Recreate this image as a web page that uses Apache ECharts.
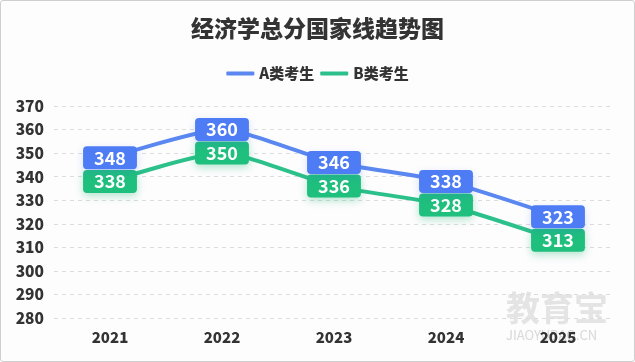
<!DOCTYPE html>
<html><head><meta charset="utf-8">
<script src="https://cdn.jsdelivr.net/npm/echarts@6/dist/echarts.min.js"></script>
<style>
html,body{margin:0;padding:0;background:#fff;}
#c{width:635px;height:362px;box-sizing:border-box;border:1px solid #cfcfcf;border-radius:3px;background:#fdfdfd;}
</style></head>
<body><div id="c"></div>
<script>
const years = ['2021','2022','2023','2024','2025'];
const seriesA = [348, 360, 346, 338, 323];
const seriesB = [338, 350, 336, 328, 313];
const nameA = 'A类考生';
const nameB = 'B类考生';
const titleText = '经济学总分国家线趋势图';

const blue = '#4d7cf4', blueLine = '#5b87f0';
const green = '#1fbf7d', greenLine = '#2cc08a';
const font = '"Noto Sans CJK SC", "Noto Sans", sans-serif';

const chart = echarts.init(document.getElementById('c'));
function lbl(bg, sh){
  return {show:true, position:'inside', color:'#fff', fontSize:18, fontWeight:'bold', fontFamily:font,
    backgroundColor:bg, borderRadius:4, padding:[2,11,2,11], lineHeight:19,
    shadowColor:sh, shadowBlur:8, shadowOffsetY:3};
}
chart.setOption({
  animation:false,
  title:{text:titleText, left:'center', top:11, textStyle:{fontSize:23, fontWeight:900, color:'#333', fontFamily:font}},
  legend:{top:60, left:'center', itemWidth:28, itemHeight:4, itemGap:6, icon:'roundRect',
    textStyle:{fontSize:15, fontWeight:900, color:'#333', fontFamily:font},
    data:[{name:nameA, itemStyle:{color:blueLine}}, {name:nameB, itemStyle:{color:greenLine}}]},
  grid:{left:53, right:20, top:105, bottom:43, containLabel:false},
  xAxis:{type:'category', data:years, boundaryGap:true,
    axisLine:{show:false}, axisTick:{show:false},
    axisLabel:{margin:12, fontSize:15, fontWeight:900, color:'#333', fontFamily:font}},
  yAxis:{type:'value', min:280, max:370, interval:10,
    axisLine:{show:false}, axisTick:{show:false},
    axisLabel:{margin:10, fontSize:15.5, fontWeight:900, color:'#333', fontFamily:font},
    splitLine:{lineStyle:{type:[4,4], color:'#dcdcdc'}}},
  series:[
    {name:nameA, type:'line', data:seriesA, smooth:0.2, symbol:'circle', symbolSize:1, showSymbol:true, z:3,
     lineStyle:{width:4, color:blueLine}, itemStyle:{color:blueLine}, label:lbl(blue,'rgba(60,100,230,0.2)')},
    {name:nameB, type:'line', data:seriesB, smooth:0.2, symbol:'circle', symbolSize:1, showSymbol:true, z:2,
     lineStyle:{width:4, color:greenLine}, itemStyle:{color:greenLine}, label:lbl(green,'rgba(0,170,100,0.3)')}
  ],
  graphic:[
    {type:'text', left:505, top:290, z:0, style:{text:'教育宝', fontSize:34, fontWeight:'bold', fill:'rgba(180,180,180,0.35)', fontFamily:font}},
    {type:'text', left:505, top:328, z:0, style:{text:'JIAOYUBAO.CN', fontSize:13, fill:'rgba(170,170,170,0.45)', fontFamily:font}}
  ]
});
</script></body></html>
